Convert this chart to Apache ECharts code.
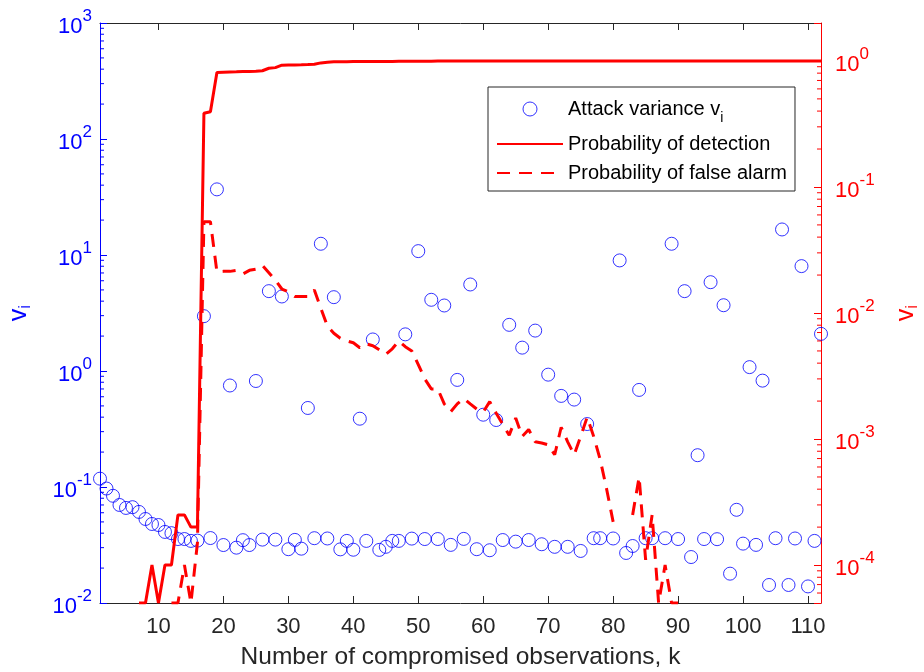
<!DOCTYPE html>
<html><head><meta charset="utf-8">
<script src="https://cdn.jsdelivr.net/npm/echarts@6/dist/echarts.min.js"></script>
<style>html,body{margin:0;padding:0;background:#fff}#c{width:924px;height:672px}</style>
</head><body><div id="c"></div>
<script>
// ---------- data ----------
const xTicks = [10, 20, 30, 40, 50, 60, 70, 80, 90, 100, 110];
const leftMinorTicks = [0.02,0.03,0.04,0.05,0.06,0.07,0.08,0.09,
  0.2,0.3,0.4,0.5,0.6,0.7,0.8,0.9, 2,3,4,5,6,7,8,9, 20,30,40,50,60,70,80,90,
  200,300,400,500,600,700,800,900];
const rightMinorTicks = [6e-5,7e-5,8e-5,9e-5, 2e-4,3e-4,4e-4,5e-4,6e-4,7e-4,8e-4,9e-4,
  2e-3,3e-3,4e-3,5e-3,6e-3,7e-3,8e-3,9e-3, 0.02,0.03,0.04,0.05,0.06,0.07,0.08,0.09,
  0.2,0.3,0.4,0.5,0.6,0.7,0.8,0.9];

// attack variance v_i, k = 1..112 (left axis)
const attackVariance = [
  0.118, 0.097, 0.084, 0.070, 0.066, 0.067, 0.061, 0.053, 0.048, 0.047,
  0.041, 0.040, 0.0356, 0.0356, 0.0343, 0.0345, 2.97, 0.0363, 36.8, 0.0316,
  0.75, 0.030, 0.0348, 0.0316, 0.82, 0.0352, 4.88, 0.0352, 4.39, 0.0291,
  0.035, 0.0294, 0.48, 0.0362, 12.5, 0.036, 4.33, 0.029, 0.0343, 0.0288,
  0.388, 0.0343, 1.87, 0.0287, 0.0305, 0.0343, 0.0343, 2.07, 0.0359, 10.8,
  0.0356, 4.11, 0.0356, 3.67, 0.0317, 0.838, 0.0357, 5.57, 0.0291, 0.42,
  0.0285, 0.378, 0.0349, 2.5, 0.0338, 1.59, 0.0349, 2.23, 0.0321, 0.93,
  0.0305, 0.61, 0.0305, 0.567, 0.0281, 0.349, 0.0362, 0.0362, null, 0.036,
  8.98, 0.027, 0.031, 0.687, 0.0362, 0.0362, null, 0.0362, 12.5, 0.0356,
  4.88, 0.0249, 0.188, 0.0356, 5.83, 0.0355, 3.69, 0.0179, 0.0636, 0.0325,
  1.08, 0.0317, 0.826, 0.0143, 0.0362, 16.6, 0.0143, 0.036, 8.02, 0.0139,
  0.0343, 2.09
];

// probability of detection (right axis)
const probDetection = [
  null, null, null, null, null, null, 5e-5, 5e-5, 1e-4, 5e-5,
  1e-4, 1e-4, 2.5e-4, 2.5e-4, 2e-4, 2e-4, 0.384, 0.395, 0.81, 0.814,
  0.818, 0.82, 0.823, 0.826, 0.83, 0.836, 0.875, 0.885, 0.925, 0.928,
  0.93, 0.932, 0.935, 0.94, 0.965, 0.975, 0.984, 0.986, 0.987, 0.988,
  0.989, 0.99, 0.99, 0.991, 0.992, 0.992, 0.993, 0.994, 0.995, 0.995,
  0.996, 0.996, 0.997, 0.997, 0.997, 0.998, 0.998, 0.998, 0.999, 0.999,
  0.999, 0.999, 0.999, 0.999, 0.999, 0.999, 0.999, 0.999, 0.999, 0.999,
  1, 1, 1, 1, 1, 1, 1, 1, 1, 1,
  1, 1, 1, 1, 1, 1, 1, 1, 1, 1,
  1, 1, 1, 1, 1, 1, 1, 1, 1, 1,
  1, 1, 1, 1, 1, 1, 1, 1, 1, 1,
  1, 1
];

// probability of false alarm (right axis)
const probFalseAlarm = [
  null, null, null, null, null, null, null, null, null, null,
  null, 5e-5, 5e-5, 1e-4, 5e-5, 1.5e-4, 0.053, 0.053, 0.0212, 0.0214,
  0.0214, 0.0218, 0.0204, 0.0218, 0.0223, 0.0239, 0.0209, 0.0182, 0.0155, 0.0147,
  0.0135, 0.0135, 0.0135, 0.0152, 0.0109, 0.0079, 0.0069, 0.0063, 0.0060, 0.0058,
  0.0053, 0.0057, 0.0055, 0.0051, 0.0047, 0.0052, 0.0060, 0.0054, 0.0050, 0.0039,
  0.0030, 0.0025, 0.0025, 0.0019, 0.00165, 0.0019, 0.0021, 0.0019, 0.00173, 0.00164,
  0.00198, 0.0016, 0.00131, 0.00107, 0.00147, 0.00105, 0.00119, 0.00095, 0.00093, 0.00090,
  0.00075, 0.00124, 0.00095, 0.00075, 0.00105, 0.00149, 0.00105, 0.00069, 0.00040, 0.00022,
  null, null, 0.00025, 0.0005, 0.00011, 0.00025, 5e-5, 1e-4, 5e-5, 5e-5,
  null, null, null, null, null, null, null, null, null, null,
  null, null, null, null, null, null, null, null, null, null,
  null, null
];

// ---------- chart ----------
const FONT = '"Liberation Sans", Arial, Helvetica, sans-serif';
const BLUE = '#0000ff', RED = '#ff0000', DARK = '#262626';
const X_MIN = 1, X_MAX = 112;

function powLabel(v) {
  const e = Math.log10(v);
  const r = Math.round(e);
  if (Math.abs(e - r) > 1e-6) return '';
  return '{b|10}{s|' + r + '}';
}
function labelRich(color) {
  return {
    b: {fontSize: 22, fontFamily: FONT, color: color, lineHeight: 30, verticalAlign: 'bottom'},
    s: {fontSize: 17, fontFamily: FONT, color: color, lineHeight: 18, verticalAlign: 'top'}
  };
}
function nameRich(color) {
  return {
    s: {fontSize: 17, fontFamily: FONT, color: color, lineHeight: 8, verticalAlign: 'bottom'}
  };
}
function minorTickSeries(values, yAxisIndex, side, color) {
  return {
    type: 'custom', xAxisIndex: 0, yAxisIndex: yAxisIndex, silent: true, z: 5, clip: false,
    data: values.map(v => [side === 'left' ? X_MIN : X_MAX, v]),
    renderItem: function (params, api) {
      const p = api.coord([api.value(0), api.value(1)]);
      const dir = side === 'left' ? 1 : -1;
      return {type: 'line', shape: {x1: p[0], y1: p[1], x2: p[0] + dir * 4, y2: p[1]},
        style: {stroke: color, lineWidth: 1}};
    }
  };
}

const chart = echarts.init(document.getElementById('c'), null, {renderer: 'canvas'});
const option = {
  animation: false,
  backgroundColor: '#ffffff',
  textStyle: {fontFamily: FONT},
  grid: {left: 100, right: 103, top: 23, bottom: 69, containLabel: false, outerBoundsMode: 'none'},
  legend: {
    data: [
      {name: 'Attack variance v_i', itemStyle: {borderWidth: 1, borderColor: BLUE, color: 'rgba(0,0,0,0)'},
        textStyle: {lineHeight: 32,
          rich: {sub: {fontSize: 14, fontFamily: FONT, color: '#000000', lineHeight: 14, verticalAlign: 'bottom'}}}},
      {name: 'Probability of detection', itemStyle: {opacity: 0}, textStyle: {lineHeight: 20}},
      {name: 'Probability of false alarm', itemStyle: {opacity: 0}, textStyle: {lineHeight: 20}}
    ],
    orient: 'vertical', left: 488, top: 87,
    itemWidth: 66, itemHeight: 14, itemGap: 9,
    padding: [6, 8, 8, 8],
    borderColor: DARK, borderWidth: 1, backgroundColor: '#ffffff',
    selectedMode: false,
    formatter: n => n.replace('v_i', 'v{sub|i}'),
    textStyle: {fontSize: 20, fontFamily: FONT, color: '#000000', lineHeight: 20,
      rich: {sub: {fontSize: 14, fontFamily: FONT, color: '#000000', lineHeight: 14, verticalAlign: 'bottom'}}}
  },
  xAxis: [
    {
      type: 'value', min: X_MIN, max: X_MAX, position: 'bottom',
      axisLine: {show: true, onZero: false, lineStyle: {color: DARK, width: 1}},
      axisTick: {show: true, inside: true, length: 7, customValues: xTicks, lineStyle: {color: DARK}},
      axisLabel: {customValues: xTicks, color: DARK, fontSize: 22, fontFamily: FONT, margin: 13},
      splitLine: {show: false},
      name: 'Number of compromised observations, k', nameLocation: 'middle', nameGap: 42,
      nameTextStyle: {color: DARK, fontSize: 24.5, fontFamily: FONT}
    },
    {
      type: 'value', min: X_MIN, max: X_MAX, position: 'top',
      axisLine: {show: true, onZero: false, lineStyle: {color: DARK, width: 1}},
      axisTick: {show: true, inside: true, length: 7, customValues: xTicks, lineStyle: {color: DARK}},
      axisLabel: {show: false}, splitLine: {show: false}
    }
  ],
  yAxis: [
    {
      type: 'log', logBase: 10, min: 0.01, max: 1000, position: 'left',
      axisLine: {show: true, onZero: false, lineStyle: {color: BLUE, width: 1}},
      axisTick: {show: true, inside: true, length: 7, lineStyle: {color: BLUE}},
      axisLabel: {formatter: powLabel, margin: 8, rich: labelRich(BLUE)},
      splitLine: {show: false},
      name: 'v{s|i}', nameLocation: 'middle', nameRotate: 90, nameGap: 66,
      nameTextStyle: {color: BLUE, fontSize: 25, fontFamily: FONT, lineHeight: 30, rich: nameRich(BLUE)}
    },
    {
      type: 'log', logBase: 10, min: 5e-5, max: 2, position: 'right',
      axisLine: {show: true, onZero: false, lineStyle: {color: RED, width: 1}},
      axisTick: {show: true, inside: true, length: 7, lineStyle: {color: RED}},
      axisLabel: {formatter: powLabel, margin: 14, rich: labelRich(RED)},
      splitLine: {show: false},
      name: 'v{s|i}', nameLocation: 'middle', nameRotate: 90, nameGap: 70,
      nameTextStyle: {color: RED, fontSize: 25, fontFamily: FONT, lineHeight: 30, rich: nameRich(RED)}
    }
  ],
  series: [
    {
      name: 'Attack variance v_i', type: 'scatter', xAxisIndex: 0, yAxisIndex: 0,
      symbol: 'circle', symbolSize: 13,
      itemStyle: {color: 'rgba(0,0,0,0)', borderColor: BLUE, borderWidth: 1},
      data: attackVariance.map((v, i) => [i + 1, v]).filter(d => d[1] !== null)
    },
    {
      name: 'Probability of detection', type: 'line', xAxisIndex: 0, yAxisIndex: 1,
      symbol: 'none', connectNulls: false,
      lineStyle: {color: RED, width: 3}, itemStyle: {color: RED},
      data: probDetection.map((v, i) => [i + 1, v])
    },
    {
      name: 'Probability of false alarm', type: 'line', xAxisIndex: 0, yAxisIndex: 1,
      symbol: 'none', connectNulls: false,
      lineStyle: {color: RED, width: 3, type: [13, 9]}, itemStyle: {color: RED},
      data: probFalseAlarm.map((v, i) => [i + 1, v])
    },
    minorTickSeries(leftMinorTicks, 0, 'left', BLUE),
    minorTickSeries(rightMinorTicks, 1, 'right', RED)
  ]
};
chart.setOption(option);
</script>
</body></html>
